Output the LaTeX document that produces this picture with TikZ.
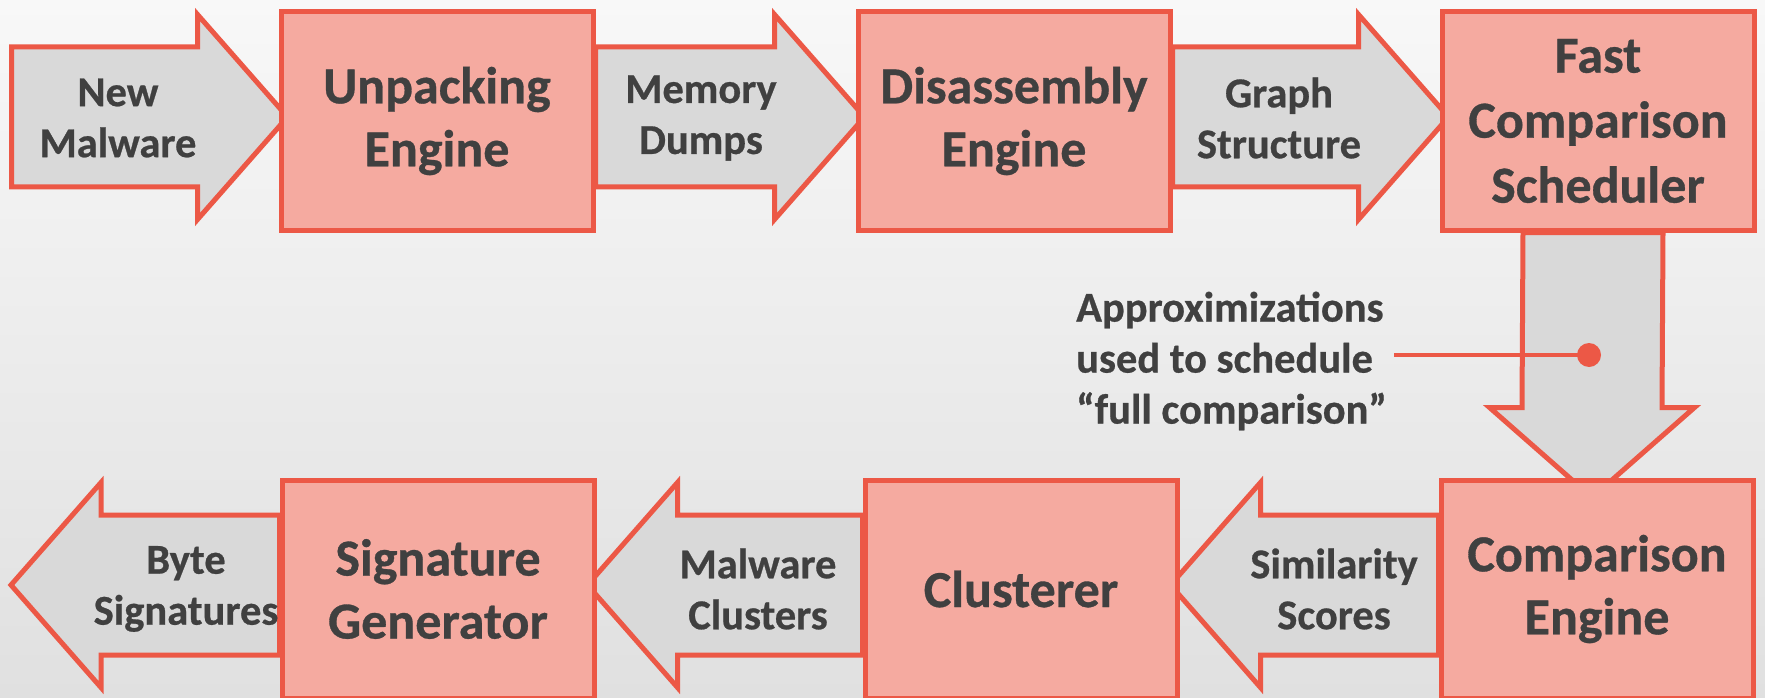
\documentclass[tikz,border=0pt]{standalone}
\usepackage{fontspec}
\setmainfont{Carlito}[BoldFeatures={FakeBold=0.6}]
\usetikzlibrary{calc}
\definecolor{boxfill}{RGB}{245,170,160}
\definecolor{edge}{RGB}{236,88,70}
\definecolor{arrfill}{RGB}{217,217,217}
\definecolor{txt}{RGB}{64,64,64}
\definecolor{bgtop}{RGB}{248,248,248}
\definecolor{bgbot}{RGB}{224,224,224}
\pgfdeclarelayer{back}\pgfdeclarelayer{mid}\pgfsetlayers{back,mid,main}
\newcommand\rarrow[2]{\draw[barrow] ($(#1)+(0,-70)$) -- ($(#2)+(-90,-70)$) -- ($(#2)+(-90,-102.5)$) -- (#2) -- ($(#2)+(-90,102.5)$) -- ($(#2)+(-90,70)$) -- ($(#1)+(0,70)$) -- cycle;}
\newcommand\larrow[2]{\draw[barrow] ($(#1)+(0,-70)$) -- ($(#2)+(90,-70)$) -- ($(#2)+(90,-102.5)$) -- (#2) -- ($(#2)+(90,102.5)$) -- ($(#2)+(90,70)$) -- ($(#1)+(0,70)$) -- cycle;}
\begin{document}
\begin{tikzpicture}[x=1pt,y=-1pt,
  stage/.style={draw=edge,fill=boxfill,line width=5pt,minimum width=312pt,minimum height=218pt,inner sep=0pt,align=center,text=txt,font=\fontsize{52}{63}\selectfont\bfseries},
  barrow/.style={draw=edge,fill=arrfill,line width=5pt},
  lab/.style={align=center,text=txt,font=\fontsize{42.5}{51}\selectfont\bfseries,inner sep=0pt},
  pointer/.style={draw=edge,line width=4pt},
]
\useasboundingbox (0,0) rectangle (1765,698);
\begin{pgfonlayer}{back}
\shade[top color=bgtop,bottom color=bgbot] (0,0) rectangle (1765,698);
\end{pgfonlayer}

% stage boxes
\node[stage] (unp) at (437,121) {Unpacking\\Engine};
\node[stage] (dis) at (1014,121) {Disassembly\\Engine};
\node[stage,font=\fontsize{52}{65}\selectfont\bfseries] (fcs) at (1598,121) {Fast\\Comparison\\Scheduler};
\node[stage] (sig) at (438,589) {Signature\\Generator};
\node[stage] (clu) at (1021,589) {Clusterer};
\node[stage] (cmp) at (1597,589) {Comparison\\Engine};

% reference lines
\coordinate (c0) at (0,117);
\coordinate (c1) at (0,585);
\coordinate (src) at (11.5,117);
\coordinate (out) at (11,585);

\begin{pgfonlayer}{mid}
\coordinate (t1) at ($(unp.west|-c0)+(9,0)$);
\coordinate (t2) at ($(dis.west|-c0)+(9,0)$);
\coordinate (t3) at ($(fcs.west|-c0)+(9,0)$);
\rarrow{src}{t1}
\rarrow{unp.east|-c0}{t2}
\rarrow{dis.east|-c0}{t3}
\coordinate (t4) at ($(clu.east|-c1)+(-9,0)$);
\coordinate (t5) at ($(sig.east|-c1)+(-9,0)$);
\larrow{cmp.west|-c1}{t4}
\larrow{clu.west|-c1}{t5}
\larrow{sig.west|-c1}{out}
% down arrow
\coordinate (dt) at ($(fcs.south)+(-5,0)$);
\coordinate (dh) at ($(cmp.north)+(-5,20)$);
\draw[barrow] ($(dt)+(-70,0)$) -- ($(dh)+(-70,-90)$) -- ($(dh)+(-102.5,-90)$) -- (dh) -- ($(dh)+(102.5,-90)$) -- ($(dh)+(70,-90)$) -- ($(dt)+(70,0)$) -- cycle;
\end{pgfonlayer}

% arrow labels
\node[lab] (l1) at (118,118) {New\\Malware};
\node[lab] (l2) at (701,118) {Memory\\Dumps};
\node[lab] (l3) at (1279,118) {Graph\\Structure};
\node[lab] (l4) at (1334,589) {Similarity\\Scores};
\node[lab] (l5) at (758,589) {Malware\\Clusters};
\node[lab] (l6) at (186,589) {Byte\\Signatures};

% annotation
\node[lab,align=left,anchor=west] (note) at (1076,361) {Approximizations\\used to schedule\\“full comparison”};
\node[circle,fill=edge,minimum size=24pt,inner sep=0pt] (dot) at (1589,355) {};
\draw[pointer] (note.east|-dot) ++(7,0) -- (dot.center);
\end{tikzpicture}
\end{document}
